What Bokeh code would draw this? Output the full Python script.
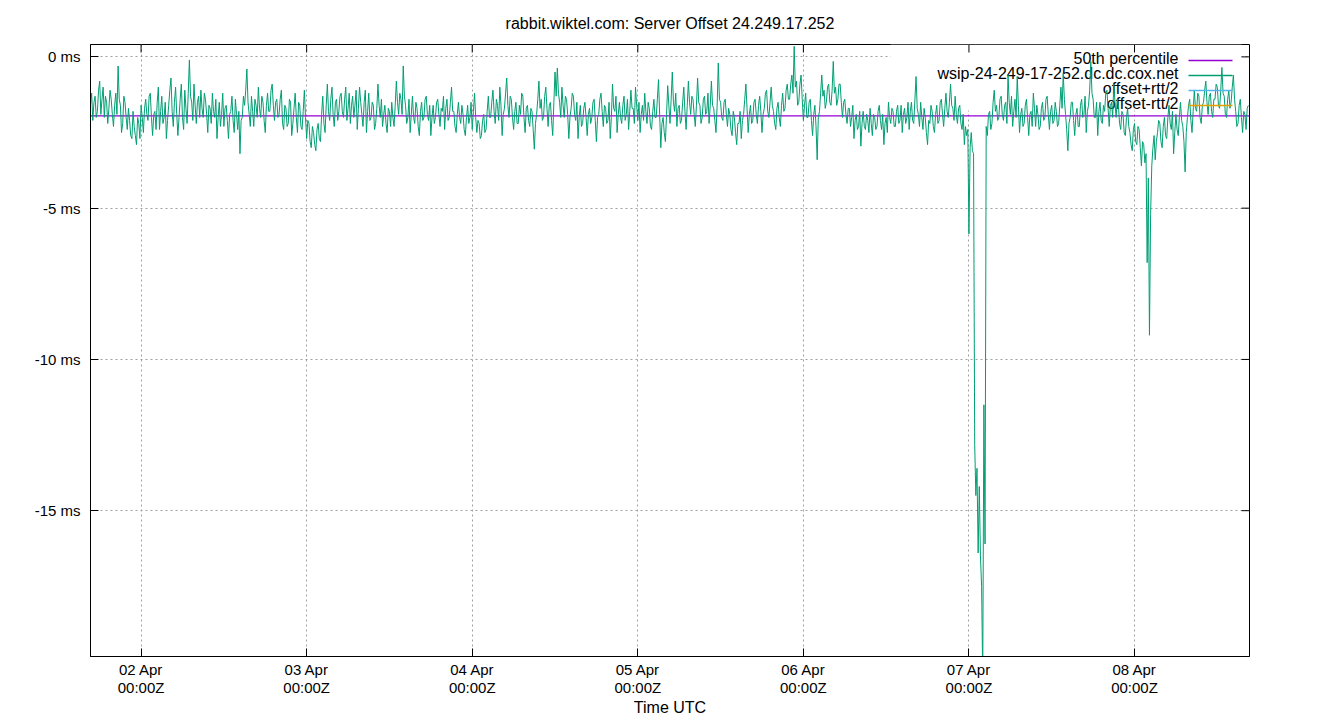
from datetime import datetime, timedelta, timezone
from bokeh.plotting import figure
from bokeh.models import Range1d, FixedTicker, Label, BoxAnnotation
from bokeh.embed import file_html
from bokeh.resources import INLINE

# ---------------- data ----------------
TITLE = "rabbit.wiktel.com: Server Offset 24.249.17.252"
X_LABEL = "Time UTC"
SERIES_NAME = "wsip-24-249-17-252.dc.dc.cox.net"
START = datetime(2024, 4, 1, 16, 40, tzinfo=timezone.utc)
STEP_MIN = 10
MEDIAN_MS = -1.95

# offset in ms, one sample every 10 minutes starting 01 Apr 16:40Z
offset_s01 = [-1.6, -1.2, -2.1, -1.5, -1.3, -2.0, -1.8, -1.1, -0.8, -1.9, -1.4, -1.0, -2.0, -1.3,
              -1.5, -2.2, -1.7, -1.1, -1.4, -1.9, -2.3, -1.6, -1.2, -1.9, -0.3, -1.4, -1.6, -2.5,
              -2.2, -1.3, -1.5, -2.0, -2.4, -1.7, -2.1, -2.6, -2.7, -1.8, -2.3, -2.6, -2.9, -2.0,
              -2.2, -2.7]
offset_s02 = [-1.6, -2.0, -2.5, -1.7, -1.4, -1.9, -2.1, -1.3, -1.2, -2.0, -2.6, -1.9, -1.8, -2.4,
              -1.5, -1.0, -2.4, -1.8, -1.3, -2.2, -2.0, -1.5, -2.7, -2.1, -1.6, -1.1, -0.7, -1.8,
              -2.3, -1.5, -1.0, -1.9, -2.6, -2.0, -1.4, -0.9, -2.0, -2.4, -1.1, -1.7, -2.2, -1.2,
              -0.1, -1.3]
offset_s03 = [-1.5, -2.1, -0.9, -1.6, -2.2, -1.5, -1.3, -2.0, -1.1, -1.7, -2.0, -1.2, -1.4, -1.9,
              -2.5, -1.6, -1.7, -2.2, -1.2, -1.8, -2.0, -1.4, -2.7, -2.0, -1.5, -2.3, -1.9, -1.2,
              -2.3, -1.7, -1.6, -2.1, -2.7, -1.9, -1.8, -1.3, -2.1, -2.5, -1.4, -1.9, -2.4, -1.8,
              -3.2, -2.1]
offset_s04 = [-2.0, -1.3, -1.6, -1.1, -0.4, -1.5, -1.9, -2.3, -1.3, -1.8, -2.3, -1.4, -1.6, -2.0,
              -1.0, -1.7, -2.0, -1.3, -1.5, -2.1, -2.5, -1.6, -1.2, -1.8, -1.8, -1.1, -0.9, -1.6,
              -2.1, -1.5, -1.4, -2.0, -1.9, -1.4, -1.1, -2.2, -2.4, -1.6, -1.7, -2.3, -2.2, -1.4,
              -1.5, -2.6]
offset_s05 = [-2.2, -1.7, -1.2, -2.0, -2.5, -1.5, -1.6, -2.3, -2.4, -1.8, -1.1, -2.0, -2.7, -2.1,
              -2.2, -2.8, -3.0, -2.3, -2.5, -2.9, -3.1, -2.4, -2.2, -2.7, -2.8, -1.9, -1.3, -2.2,
              -2.5, -1.6, -0.9, -1.8, -2.1, -1.4, -1.0, -1.9, -2.3, -1.5, -1.4, -2.1, -1.8, -1.3]
offset_s06 = [-1.2, -1.8, -2.0, -1.4, -1.0, -2.1, -1.7, -1.2, -2.2, -1.6, -1.3, -2.0, -1.6, -1.1,
              -2.4, -1.7, -1.0, -1.5, -1.9, -2.3, -1.5, -1.1, -2.5, -1.8, -1.2, -2.1, -2.0, -1.5,
              -1.6, -2.4, -2.2, -1.7, -0.9, -1.6, -2.0, -1.4, -2.3, -1.9, -1.6, -2.2, -2.5, -1.7,
              -1.8, -2.3]
offset_s07 = [-1.5, -2.0, -2.3, -1.6, -0.8, -1.5, -1.9, -1.2, -1.4, -1.9, -0.3, -1.3, -1.6, -2.2,
              -2.0, -1.4, -2.5, -1.9, -1.3, -2.0, -2.2, -1.5, -1.7, -2.3, -2.6, -1.8, -1.5, -2.1,
              -2.0, -1.4, -1.3, -1.9, -2.1, -1.6, -2.6, -2.0, -1.6, -2.2, -2.0, -1.5, -1.4, -1.9,
              -2.3, -1.7]
offset_s08 = [-1.8, -1.3, -2.4, -1.7, -1.4, -2.1, -2.0, -1.5, -1.0, -1.8, -1.8, -2.3, -2.5, -1.9,
              -1.5, -2.0, -2.2, -1.6, -1.9, -2.4, -2.6, -2.0, -1.6, -2.2, -2.0, -1.5, -2.4, -1.8,
              -1.2, -2.0, -2.5, -2.1, -2.2, -2.7, -2.6, -2.1, -1.9, -2.5, -2.4, -1.8, -1.3, -2.0]
offset_s09 = [-2.0, -1.5, -1.1, -1.8, -2.2, -1.4, -1.6, -2.1, -1.0, -1.6, -2.6, -1.9, -1.7, -1.2,
              -0.7, -1.6, -2.0, -1.3, -1.4, -2.0, -2.4, -1.8, -1.5, -2.2, -2.2, -1.6, -1.9, -1.2,
              -1.3, -2.0, -2.5, -1.7, -1.6, -2.1, -2.3, -1.7, -1.8, -2.4, -3.05, -2.2, -1.9, -1.4,
              -0.8, -1.7]
offset_s10 = [-1.4, -2.1, -2.0, -1.3, -1.0, -1.7, -2.3, -1.6, -1.5, -2.1, -2.6, -1.5, -0.5, -1.3,
              -0.37, -1.2, -1.5, -2.0, -1.0, -1.6, -2.0, -1.3, -1.4, -1.9, -2.7, -2.0, -1.7, -1.2,
              -1.3, -1.9, -2.1, -1.5, -2.7, -2.0, -1.6, -2.3, -2.2, -1.7, -1.5, -2.0, -2.6, -1.9,
              -1.7, -2.2]
offset_s11 = [-2.0, -1.5, -1.4, -2.1, -2.8, -2.0, -1.9, -1.4, -1.2, -1.8, -2.3, -1.6, -1.7, -2.2,
              -2.1, -1.5, -2.7, -2.0, -0.9, -1.7, -1.8, -1.3, -2.5, -1.9, -1.5, -2.0, -2.2, -1.6,
              -1.3, -2.1, -1.9, -1.4, -2.4, -1.8, -1.1, -1.7, -1.7, -2.2, -1.0, -1.6, -2.1, -1.5,
              -2.5, -1.9]
offset_s12 = [-1.6, -2.1, -1.2, -1.8, -2.2, -1.5, -1.7, -2.3, -2.4, -1.8, -1.4, -2.0, -2.0, -1.4,
              -0.75, -1.9, -3.0, -2.2, -2.0, -2.5, -2.8, -1.9, -0.95, -1.6, -2.2, -1.4, -0.5, -1.5,
              -1.8, -1.2, -2.3, -1.7, -1.6, -2.2, -2.1, -1.5, -1.0, -1.8, -2.4, -1.6, -0.8, -1.5,
              -1.9, -1.3]
offset_s13 = [-1.4, -1.9, -2.3, -1.6, -0.7, -1.5, -1.6, -2.2, -2.0, -1.4, -1.3, -1.9, -1.8, -1.2,
              -2.2, -1.6, -0.8, -1.6, -1.7, -2.1, -2.5, -1.6, -0.2, -1.4, -1.5, -2.0, -2.1, -1.5,
              -1.4, -1.9, -2.3, -1.7, -1.9, -2.4, -2.6, -1.8, -2.0, -2.5, -2.9, -2.2, -2.2, -1.8,
              -2.7, -2.1]
offset_s14 = [-1.9, -1.4, -0.9, -1.7, -2.5, -1.9, -1.6, -2.2, -2.1, -1.5, -1.4, -1.9, -2.2, -1.6,
              -1.3, -1.8, -2.5, -1.9, -1.7, -1.2, -1.1, -1.8, -2.0, -1.5, -1.0, -1.6, -1.8, -2.2,
              -2.4, -1.7, -1.5, -2.0, -2.3, -1.6, -1.2, -1.8, -1.7, -1.1, -0.9, -1.4, -1.4, -0.9,
              -0.6, -1.2]
offset_s15 = [0.35, -1.0, -0.8, -1.6, -1.5, -0.9, -0.6, -1.4, -2.1, -1.6, -1.2, -2.0, -2.0, -1.5,
              -1.4, -2.1, -2.6, -1.9, -1.6, -2.3, -3.4, -2.0, -1.8, -1.2, -0.6, -1.3, -1.1, -1.7,
              -1.5, -1.0, -0.9, -1.5, -1.6, -1.1, -0.15, -1.2, -1.0, -1.6, -1.4, -0.9, -0.9, -1.5,
              -2.0, -1.5]
offset_s16 = [-1.4, -1.9, -2.2, -1.7, -1.7, -2.3, -2.0, -1.6, -2.7, -2.1, -1.9, -2.4, -2.3, -1.8,
              -2.95, -2.2, -1.8, -2.3, -2.4, -1.9, -2.1, -2.5, -1.7, -2.2, -2.6, -1.9, -2.0, -2.4,
              -2.3, -1.8, -1.6, -2.1, -2.4, -1.9, -2.9, -2.2, -2.0, -2.5, -1.5, -2.0, -2.2, -1.7,
              -1.8, -2.3]
offset_s17 = [-2.3, -1.8, -1.6, -2.2, -2.1, -1.6, -2.5, -1.9, -1.7, -2.2, -2.0, -1.5, -2.4, -1.8,
              -1.5, -2.1, -2.2, -1.4, -0.65, -1.7, -1.9, -2.3, -1.5, -2.0, -2.4, -1.7, -2.0, -2.5,
              -2.9, -2.1, -2.2, -1.6, -1.8, -2.3, -2.5, -1.9, -1.6, -2.2, -2.1, -1.5, -1.4, -1.9,
              -2.3, -1.7]
offset_s18 = [-1.2, -1.8, -2.0, -1.5, -0.9, -1.6, -1.7, -2.1, -1.3, -1.9, -2.2, -1.7, -1.6, -2.2,
              -2.4, -1.9, -2.9, -2.3, -2.6, -2.4]
offset_dip1 = [-5.85, -3.0, -2.5, -3.1, -3.2, -12.8, -14.5, -13.6, -16.4, -14.2, -16.5, -17.5,
               -20.5, -11.5, -16.1, -2.3, -2.6, -1.9]
offset_s19 = [-1.8, -2.4, -2.2, -1.5, -1.1, -1.8, -1.6, -2.1, -2.0, -1.4, -1.3, -1.9, -2.1, -1.6,
              -1.5, -2.2, -0.6, -1.5, -1.9, -1.3, -2.3, -1.8, -1.4, -2.0, -0.65, -1.6, -2.5, -1.9,
              -1.7, -2.3, -2.2, -1.6, -1.4, -2.0, -2.6, -1.9, -1.8, -2.3, -1.2, -1.7, -2.3, -1.6,
              -1.9, -2.4]
offset_s20 = [-2.3, -1.7, -1.5, -2.1, -2.0, -1.4, -1.3, -1.9, -2.4, -1.8, -1.6, -2.2, -2.1, -1.5,
              -1.8, -2.3, -2.2, -1.6, -1.0, -1.7, -0.55, -1.4, -1.9, -2.4, -3.1, -2.2, -2.0, -1.5,
              -1.5, -2.1, -2.6, -1.9, -1.7, -2.3, -2.3, -1.6, -1.4, -2.0, -1.9, -1.3, -2.5, -1.8,
              -1.6, -1.1]
offset_s21 = [-0.15, -1.2, -1.4, -2.0, -2.0, -1.5, -2.6, -1.8, -1.5, -2.1, -2.2, -1.6, -1.8, -1.2,
              -1.1, -1.7, -2.3, -1.6, -1.5, -2.0, -0.9, -1.5, -2.0, -1.4, -1.6, -2.2, -2.4, -1.8,
              -1.9, -2.5, -2.6, -2.0, -1.7, -2.3, -2.5, -2.9, -3.1, -2.4, -2.2, -2.8, -2.9, -2.3,
              -2.4, -3.0]
offset_dip2 = [-3.6, -2.8, -2.9, -3.5, -3.2, -6.8, -4.0, -9.2, -5.2, -3.6, -3.0, -2.6, -3.4, -2.8,
               -2.5, -2.1]
offset_s22 = [-2.2, -2.8, -3.0, -2.3, -2.0, -2.6, -2.7, -2.0, -1.6, -2.2, -2.4, -1.8, -3.2, -2.5,
              -1.9, -2.4, -2.6, -2.0, -1.5, -2.1, -2.3, -2.8, -3.8, -2.5, -2.0, -1.6, -1.4, -2.1,
              -2.5, -1.8, -1.1, -1.7, -1.8, -1.2, -1.3, -2.0, -2.2, -1.6, -1.5, -1.1, -0.8, -1.5,
              -1.9, -1.3, -1.2, -1.8, -2.0, -1.4, -1.4, -0.9, -1.0, -1.6, -1.7, -1.1, -0.35, -1.2,
              -1.3, -1.9, -2.0, -1.4, -1.1, -1.7, -1.5, -1.0, -0.6, -1.4, -1.8, -2.3, -2.2, -1.6,
              -1.4, -2.0, -2.5, -1.8, -1.9, -2.4, -1.7, -1.6]

y_tick_values = [0, -5, -10, -15]
y_tick_labels = ["0 ms", "-5 ms", "-10 ms", "-15 ms"]
x_tick_days = [2, 3, 4, 5, 6, 7, 8]
x_tick_labels = ["02 Apr\n00:00Z", "03 Apr\n00:00Z", "04 Apr\n00:00Z", "05 Apr\n00:00Z",
                 "06 Apr\n00:00Z", "07 Apr\n00:00Z", "08 Apr\n00:00Z"]
legend_labels = ["50th percentile", SERIES_NAME, "offset+rtt/2", "offset-rtt/2"]
legend_colors = ["#9400d3", "#009e73", "#56b4e9", "#e69f00"]

# ---------------- build ----------------
FONT = "Liberation Sans"
FRAME_L, FRAME_T, FRAME_W, FRAME_H = 90, 44, 1159, 612
TICK = 8


def ms(dt):
    return dt.timestamp() * 1000.0


offsets = (offset_s01 + offset_s02 + offset_s03 + offset_s04 + offset_s05 + offset_s06 +
           offset_s07 + offset_s08 + offset_s09 + offset_s10 + offset_s11 + offset_s12 +
           offset_s13 + offset_s14 + offset_s15 + offset_s16 + offset_s17 + offset_s18 +
           offset_dip1 + offset_s19 + offset_s20 + offset_s21 + offset_dip2 + offset_s22)
times = [ms(START + timedelta(minutes=STEP_MIN * i)) for i in range(len(offsets))]

x0 = ms(START)
x1 = ms(START + timedelta(days=7))
Y0, Y1 = -19.82, 0.41
x_ticks = [ms(datetime(2024, 4, d, tzinfo=timezone.utc)) for d in x_tick_days]

W, H = 1340, 720
p = figure(width=W, height=H, x_axis_type="datetime", output_backend="svg",
           toolbar_location=None, x_range=Range1d(x0, x1), y_range=Range1d(Y0, Y1),
           min_border_left=FRAME_L, min_border_right=W - FRAME_L - FRAME_W,
           min_border_top=FRAME_T, min_border_bottom=H - FRAME_T - FRAME_H)
p.background_fill_color = "white"
p.border_fill_color = "white"
p.outline_line_color = "black"
p.outline_line_width = 1

p.title.text = TITLE
p.title.align = "center"
p.title.vertical_align = "top"
p.title.text_font = FONT
p.title.text_font_size = "16px"
p.title.text_font_style = "normal"
p.title.text_color = "black"
p.title.standoff = 22


def style_axis(ax):
    ax.axis_line_color = "black"
    ax.major_tick_in = TICK
    ax.major_tick_out = 0
    ax.minor_tick_in = 0
    ax.minor_tick_out = 0
    ax.major_tick_line_color = "black"
    ax.major_label_text_font = FONT
    ax.major_label_text_font_size = "15px"
    ax.major_label_text_color = "black"


xt = FixedTicker(ticks=x_ticks)
yt = FixedTicker(ticks=y_tick_values)

xa = p.xaxis[0]
style_axis(xa)
xa.ticker = xt
xa.major_label_overrides = dict(zip(x_ticks, x_tick_labels))
xa.major_label_standoff = 4
xa.major_label_text_line_height = 1.1
xa.axis_label = X_LABEL
xa.axis_label_text_font = FONT
xa.axis_label_text_font_size = "16px"
xa.axis_label_text_font_style = "normal"
xa.axis_label_text_color = "black"
xa.axis_label_standoff = 0

ya = p.yaxis[0]
style_axis(ya)
ya.ticker = yt
ya.major_label_overrides = dict(zip(y_tick_values, y_tick_labels))
ya.major_label_standoff = 10

for g, t in ((p.xgrid[0], xt), (p.ygrid[0], yt)):
    g.ticker = t
    g.grid_line_color = "#a0a0a0"
    g.grid_line_dash = "2 3"
    g.grid_line_width = 1


# pixel -> data helpers for decoration placement (frame: x 90..1249, y 44..656)
def fx(px):
    return x0 + (px - FRAME_L) / FRAME_W * (x1 - x0)


def fy(py):
    return Y1 - (py - FRAME_T) / FRAME_H * (Y1 - Y0)


key_bg = BoxAnnotation(left=fx(890), right=fx(1241), top=fy(44), bottom=fy(110),
                       fill_color="white", fill_alpha=1.0, line_color=None, level="underlay")
p.add_layout(key_bg)

# mirrored ticks on the top and right borders
p.segment(x0=x_ticks, y0=[Y1] * len(x_ticks), x1=x_ticks,
          y1=[fy(FRAME_T + TICK)] * len(x_ticks), line_color="black", line_width=1)
p.segment(x0=[x1] * len(y_tick_values), y0=y_tick_values,
          x1=[fx(FRAME_L + FRAME_W - TICK)] * len(y_tick_values), y1=y_tick_values,
          line_color="black", line_width=1)

# series
p.line([x0, x1], [MEDIAN_MS, MEDIAN_MS], line_color=legend_colors[0], line_width=1.3)
p.line(times, offsets, line_color=legend_colors[1], line_width=1)

# key (text right aligned, sample line to its right)
for k, (lab, col) in enumerate(zip(legend_labels, legend_colors)):
    ty = 58 + 15 * k
    p.add_layout(Label(x=fx(1178), y=fy(ty), text=lab, text_align="right",
                       text_baseline="middle", text_font=FONT, text_font_size="16px",
                       text_color="black", level="underlay"))
    p.segment(x0=[fx(1188)], y0=[fy(ty + 2)], x1=[fx(1232)], y1=[fy(ty + 2)],
              line_color=col, line_width=1.3)

open("out.html", "w").write(file_html(p, INLINE))
